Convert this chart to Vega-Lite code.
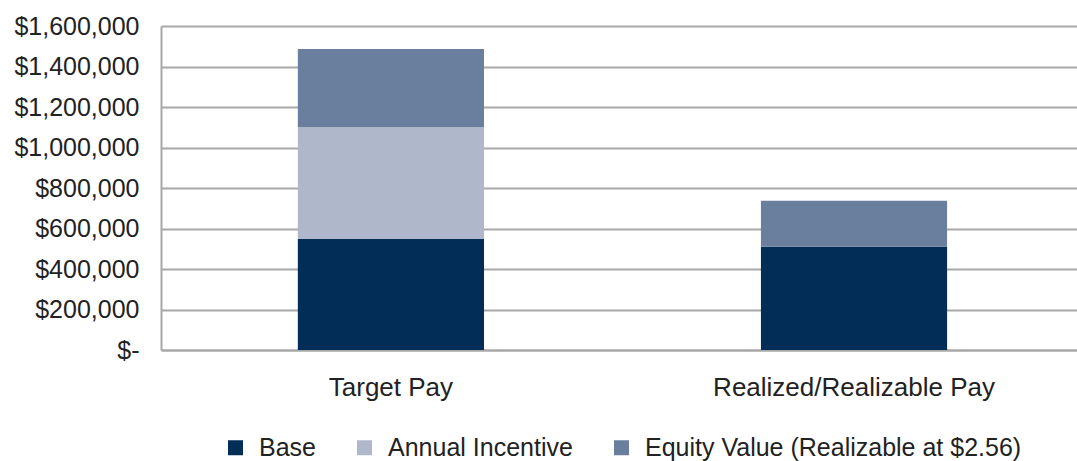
{
  "$schema": "https://vega.github.io/schema/vega-lite/v6.json",
  "width": 916,
  "height": 324,
  "autosize": {"type": "none"},
  "padding": {"left": 161, "top": 26, "right": 0, "bottom": 111},
  "background": "white",
  "config": {
    "view": {"stroke": null},
    "font": "Liberation Sans"
  },
  "data": {
    "values": [
      {"pay": "Target Pay", "component": "Base", "k": 1, "amount": 548000},
      {"pay": "Target Pay", "component": "Annual Incentive", "k": 2, "amount": 552000},
      {"pay": "Target Pay", "component": "Equity Value (Realizable at $2.56)", "k": 3, "amount": 386000},
      {"pay": "Realized/Realizable Pay", "component": "Base", "k": 1, "amount": 510000},
      {"pay": "Realized/Realizable Pay", "component": "Annual Incentive", "k": 2, "amount": 0},
      {"pay": "Realized/Realizable Pay", "component": "Equity Value (Realizable at $2.56)", "k": 3, "amount": 227000}
    ]
  },
  "mark": {"type": "bar"},
  "encoding": {
    "x": {
      "field": "pay",
      "type": "nominal",
      "sort": ["Target Pay", "Realized/Realizable Pay"],
      "scale": {"paddingInner": 0.598, "paddingOuter": 0.288, "align": 0.513},
      "axis": {
        "title": null,
        "labelAngle": 0,
        "labelFontSize": 26,
        "labelColor": "#222222",
        "labelPadding": 24,
        "labelLimit": 1000,
        "ticks": false,
        "tickSize": 0,
        "domainColor": "#A8A8A8",
        "domainWidth": 2,
        "grid": false
      }
    },
    "y": {
      "field": "amount",
      "type": "quantitative",
      "stack": "zero",
      "scale": {"domain": [0, 1600000], "nice": false},
      "axis": {
        "title": null,
        "values": [0, 200000, 400000, 600000, 800000, 1000000, 1200000, 1400000, 1600000],
        "labelExpr": "datum.value == 0 ? '$-' : '$' + format(datum.value, ',.0f')",
        "labelFontSize": 25,
        "labelColor": "#222222",
        "labelPadding": 22,
        "ticks": false,
        "tickSize": 0,
        "domain": true,
        "domainColor": "#A8A8A8",
        "domainWidth": 2,
        "grid": true,
        "gridColor": "#A8A8A8",
        "gridWidth": 2
      }
    },
    "color": {
      "field": "component",
      "type": "nominal",
      "sort": ["Base", "Annual Incentive", "Equity Value (Realizable at $2.56)"],
      "scale": {
        "domain": ["Base", "Annual Incentive", "Equity Value (Realizable at $2.56)"],
        "range": ["#012D57", "#AFB8CB", "#6A7F9E"]
      },
      "legend": {
        "title": null,
        "orient": "none",
        "legendX": 62,
        "legendY": 409,
        "direction": "horizontal",
        "symbolType": "square",
        "symbolSize": 225,
        "symbolStrokeWidth": 0,
        "labelFontSize": 25,
        "labelColor": "#222222",
        "labelOffset": 11,
        "columnPadding": 36,
        "padding": 0,
        "labelLimit": 1000
      }
    },
    "order": {"field": "k", "type": "quantitative", "sort": "ascending"}
  }
}
